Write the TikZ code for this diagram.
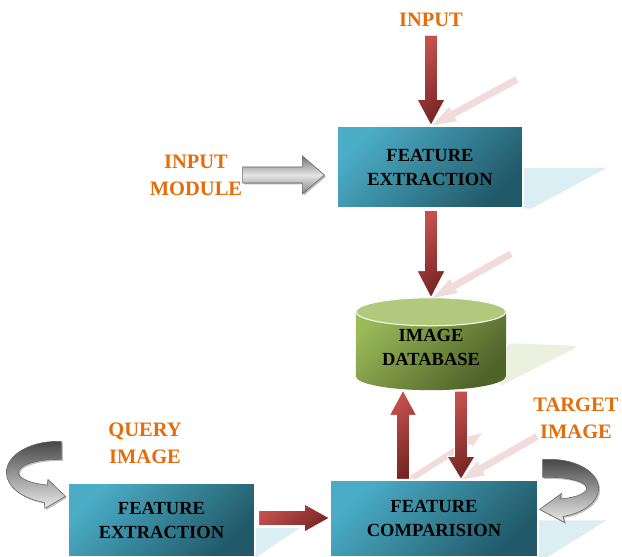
\documentclass[tikz,border=0pt]{standalone}
\usepackage{fontspec}
\setmainfont{Liberation Serif}
\usetikzlibrary{calc,shadows,backgrounds}

\definecolor{txtorange}{HTML}{E46C0A}
\definecolor{boxL}{HTML}{4BACC6}
\definecolor{boxD}{HTML}{215968}
\definecolor{arL}{HTML}{C4504D}
\definecolor{arD}{HTML}{772624}
\definecolor{dbL}{HTML}{9BBB59}
\definecolor{dbD}{HTML}{4F6228}
\definecolor{dbTop}{HTML}{B0C97C}
\definecolor{reflred}{HTML}{F2DCDB}
\definecolor{reflblue}{HTML}{DAEEF3}
\definecolor{reflgreen}{HTML}{EBF1DE}

%% block arrow : [style]{from}{to}{half shaft}{half head}{head length}
\newcommand\blockarr[6][]{%
  \path[#1] let \p1=(#2), \p2=(#3),
    \n1={atan2(\y2-\y1,\x2-\x1)}, \n2={veclen(\x2-\x1,\y2-\y1)} in
    [shift={(\p1)}, rotate=\n1]
    (0,-#4) -- ({\n2-#6},-#4) -- ({\n2-#6},-#5) -- (\n2,0)
    -- ({\n2-#6},#5) -- ({\n2-#6},#4) -- (0,#4) -- cycle;}

\tikzset{
  box/.style={draw=white, line width=1.2pt, top color=boxL, bottom color=boxD,
    shading angle=45, font=\fontsize{18.5}{24}\selectfont\bfseries,
    align=center, inner sep=0pt},
  lbl/.style={text=txtorange, font=\fontsize{20.5}{27}\selectfont\bfseries,
    align=center},
  redarr/.style={draw=white, line width=.8pt, top color=arL, bottom color=arD,
    shading angle=40},
  grayarr/.style={draw=black!60, line width=.6pt, top color=black!55,
    bottom color=black!50, middle color=black!10,
    drop shadow={shadow xshift=1.5pt, shadow yshift=-1.5pt, fill=black!55}},
  curlarr/.style={draw=black!60, line width=.6pt, top color=black!72,
    bottom color=black!8,
    drop shadow={shadow xshift=1.5pt, shadow yshift=-1.5pt, fill=black!50}},
  refl/.style={fill=reflred},
}

\begin{document}
\begin{tikzpicture}[x=1pt,y=1pt]
  \useasboundingbox (0,0) rectangle (622,557);

  %% labels and boxes
  \node (in) [lbl] at (431,537) {INPUT};
  \node (fe1) [box, minimum width=186, minimum height=82] at (430,390)
  {FEATURE\\EXTRACTION};
  \node (mod) [lbl] at (196,382) {INPUT\\MODULE};
  \node (db) [minimum width=150, minimum height=92, inner sep=0pt,
  font=\fontsize{18.5}{24}\selectfont\bfseries, align=center] at (431,210)
  {IMAGE\\DATABASE};
  \node (query) [lbl] at (145,114) {QUERY\\IMAGE};
  \node (target) [lbl] at (576,139) {TARGET\\IMAGE};
  \node (fe2) [box, minimum width=187, minimum height=74] at (161.5,37)
  {FEATURE\\EXTRACTION};
  \node (fc) [box, minimum width=208, minimum height=77] at (434,38.5)
  {FEATURE\\COMPARISION};

  \begin{scope}[on background layer]
    % pale shadows right of the shapes
    \fill[reflblue] ([yshift=-1pt]fe1.east) -- ++(83,0)
    -- ([xshift=8pt]fe1.south east) -- (fe1.south east) -- cycle;
    \fill[reflblue] ([yshift=-2pt]fc.east) -- ++(68,0)
    -- ([xshift=8pt]fc.south east) -- (fc.south east) -- cycle;
    \fill[reflblue] ([yshift=-8pt]fe2.east) -- ++(44,0)
    -- (fe2.south east) -- cycle;
    \fill[reflgreen, rounded corners=6pt] ([yshift=4pt]db.east)
    -- ++(73,-3) -- ([xshift=-8pt,yshift=6pt]db.south east) -- cycle;

    % database drum
    \path[top color=dbL, bottom color=dbD, shading angle=45]
    ($(db.north west)+(0,-11)$) -- ($(db.south west)+(0,17)$)
    arc[start angle=180, end angle=360, x radius=75, y radius=14]
    -- ($(db.north east)+(0,-11)$)
    arc[start angle=0, end angle=180, x radius=75, y radius=14] -- cycle;
    \draw[white, line width=1pt, fill=dbTop] ($(db.north)+(0,-11)$)
    ellipse[x radius=75, y radius=14];

    % pink reflections of the arrows
    \blockarr[refl]{[shift={(87pt,46pt)}]fe1.north}{[xshift=2pt]fe1.north}{3.5}{8}{24}
    \blockarr[refl]{[shift={(80pt,47pt)}]db.north}{[shift={(2pt,3pt)}]db.north}{3.5}{8}{24}
    \blockarr[refl]{[xshift=-24pt]fc.north}{[shift={(48pt,46pt)}]fc.north}{3}{6}{15}
    \blockarr[refl]{[shift={(103pt,43pt)}]fc.north}{[xshift=28pt]fc.north}{3.5}{8}{22}
  \end{scope}

  %% block arrows
  \blockarr[redarr]{[yshift=-5pt]in.south}{[xshift=1pt]fe1.north}{6.5}{14}{26}
  \blockarr[grayarr]{[xshift=-3pt]mod.east}{$(fe1.west |- mod.east)+(-12pt,0)$}{8}{19}{22}
  \blockarr[redarr]{[shift={(1pt,-2pt)}]fe1.south}{[yshift=3pt]db.north}{6.5}{14}{27}
  \blockarr[redarr]{[xshift=-31pt]fc.north}{[shift={(-28pt,3pt)}]db.south}{6.5}{13.5}{25}
  \blockarr[redarr]{[shift={(30pt,2pt)}]db.south}{[xshift=27pt]fc.north}{6.5}{14}{23}
  \blockarr[redarr]{[shift={(3pt,2pt)}]fe2.east}{$(fc.west |- fe2.east)+(0,2pt)$}{7.5}{14}{25}

  %% curled arrows
  \begin{scope}[shift={(fe2.north west)}]
    \path[curlarr] (-6,23) -- (-6,41) -- (-10,41)
    arc[start angle=90, end angle=255, x radius=51, y radius=31]
    -- (-22.5,-26) -- (-2,-14) -- (-19.5,3) -- (-20.1,-2.6)
    arc[start angle=255, end angle=90, x radius=39, y radius=13] -- cycle;
  \end{scope}
  \begin{scope}[shift={(fc.north east)}]
    \path[curlarr] (4,2) -- (4,20) -- (12,20)
    arc[start angle=90, end angle=-75, x radius=48, y radius=29]
    -- (26,-43) -- (1,-30) -- (23,-14) -- (21.3,-19.6)
    arc[start angle=-75, end angle=90, x radius=36, y radius=11] -- cycle;
  \end{scope}
\end{tikzpicture}
\end{document}
